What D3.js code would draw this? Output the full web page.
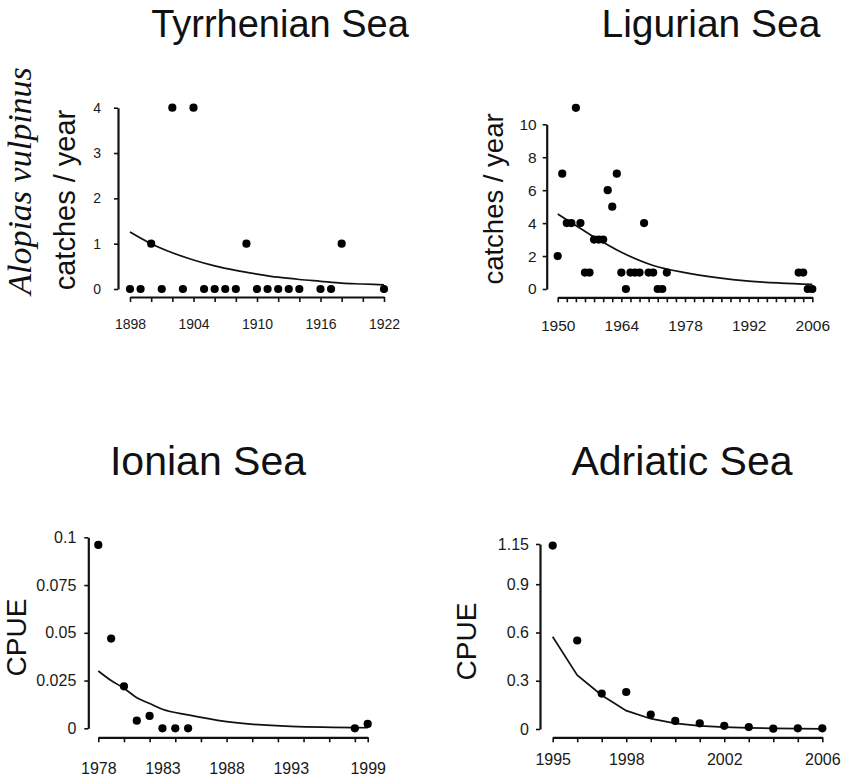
<!DOCTYPE html>
<html>
<head>
<meta charset="utf-8">
<script src="https://cdn.jsdelivr.net/npm/d3@7"></script>
<style>
  body { margin: 0; background: #fff; }
  svg { display: block; }
</style>
</head>
<body>
<div id="chart"></div>
<script>
// Tyrrhenian Sea: catches per year
const tyrYears = [1898, 1899, 1900, 1901, 1902, 1903, 1904, 1905, 1906, 1907, 1908, 1909, 1910, 1911, 1912, 1913, 1914, 1916, 1917, 1918, 1922];
const tyrCatches = [0, 0, 1, 0, 4, 0, 4, 0, 0, 0, 0, 1, 0, 0, 0, 0, 0, 0, 0, 1, 0];
const tyrFitYears = [1898, 1900, 1902, 1904, 1906, 1908, 1910, 1912, 1914, 1916, 1918, 1920, 1922];
const tyrFit = [1.26, 1.0, 0.8, 0.64, 0.51, 0.41, 0.33, 0.26, 0.21, 0.17, 0.13, 0.11, 0.09];
const tyrXLabels = [1898, 1904, 1910, 1916, 1922];
const tyrYTicks = [0, 1, 2, 3, 4];

// Ligurian Sea: catches per year
const ligYears = [1950, 1951, 1952, 1953, 1954, 1955, 1956, 1957, 1958, 1959, 1960, 1961, 1962, 1963, 1964, 1965, 1966, 1967, 1968, 1969, 1970, 1971, 1972, 1973, 1974, 2003, 2004, 2005, 2006];
const ligCatches = [2, 7, 4, 4, 11, 4, 1, 1, 3, 3, 3, 6, 5, 7, 1, 0, 1, 1, 1, 4, 1, 1, 0, 0, 1, 1, 1, 0, 0];
const ligFitYears = [1950, 1957, 1964, 1971, 1978, 1985, 1992, 1999, 2006];
const ligFit = [4.55, 3.33, 2.23, 1.43, 0.99, 0.69, 0.48, 0.36, 0.28];
const ligXLabels = [1950, 1964, 1978, 1992, 2006];
const ligYTicks = [0, 2, 4, 6, 8, 10];

// Ionian Sea: CPUE
const ionYears = [1978, 1979, 1980, 1981, 1982, 1983, 1984, 1985, 1998, 1999];
const ionCpue = [0.096, 0.047, 0.022, 0.004, 0.0065, 0, 0, 0, 0, 0.0023];
const ionFitYears = [1978, 1979, 1980, 1981, 1982, 1983, 1985, 1988, 1993, 1999];
const ionFit = [0.030, 0.025, 0.021, 0.016, 0.013, 0.010, 0.007, 0.0035, 0.001, 0.0003];
const ionXLabels = [1978, 1983, 1988, 1993, 1999];
const ionYTicks = [0, 0.025, 0.05, 0.075, 0.1];

// Adriatic Sea: CPUE
const adrYears = [1995, 1996, 1997, 1998, 1999, 2000, 2001, 2002, 2003, 2004, 2005, 2006];
const adrCpue = [1.14, 0.55, 0.22, 0.23, 0.09, 0.05, 0.035, 0.02, 0.012, 0.002, 0.004, 0.004];
const adrFit = [0.573, 0.335, 0.21, 0.114, 0.064, 0.035, 0.02, 0.012, 0.007, 0.004, 0.002, 0.001];
const adrXLabels = [1995, 1998, 2002, 2006];
const adrYTicks = [0, 0.3, 0.6, 0.9, 1.15];

const W = 842, H = 781;
const sans = "'Liberation Sans', Arial, Helvetica, sans-serif";
const ink = "#111";

const svg = d3.select("#chart").append("svg")
    .attr("width", W)
    .attr("height", H)
    .style("font-family", sans);

const panels = [
    {
        title: "Tyrrhenian Sea", titleX: 280, titleY: 37, titleSize: 38,
        years: tyrYears, values: tyrCatches, fitYears: tyrFitYears, fit: tyrFit, smooth: true,
        xDomain: [1898, 1922], xRange: [130, 384], xTickStep: 2, xLabels: tyrXLabels,
        yDomain: [0, 4], yRange: [289, 107.7], yTicks: tyrYTicks,
        axisX: 118, axisY: 297, fontSize: 14, xLabTop: 22, yPad: 13,
        ylab: "catches / year", ylabX: 75, ylabY: 200, ylabSize: 29
    },
    {
        title: "Ligurian Sea", titleX: 711, titleY: 37, titleSize: 39,
        years: ligYears, values: ligCatches, fitYears: ligFitYears, fit: ligFit, smooth: true,
        xDomain: [1950, 2006], xRange: [557.7, 812.3], xTickStep: 2, xLabels: ligXLabels,
        yDomain: [0, 10], yRange: [289, 124.3], yTicks: ligYTicks,
        axisX: 546.7, axisY: 297.3, fontSize: 15.5, xLabTop: 23, yPad: 6,
        ylab: "catches / year", ylabX: 503, ylabY: 199, ylabSize: 27.5
    },
    {
        title: "Ionian Sea", titleX: 208, titleY: 475, titleSize: 41,
        years: ionYears, values: ionCpue, fitYears: ionFitYears, fit: ionFit, smooth: true,
        xDomain: [1978, 1999], xRange: [98.3, 367.7], xTickStep: 2, xLabels: ionXLabels,
        yDomain: [0, 0.1], yRange: [728.3, 537.3], yTicks: ionYTicks,
        axisX: 88.3, axisY: 737.3, fontSize: 16, xLabTop: 25, yPad: 8,
        ylab: "CPUE", ylabX: 26, ylabY: 637.5, ylabSize: 28
    },
    {
        title: "Adriatic Sea", titleX: 682, titleY: 475, titleSize: 41,
        years: adrYears, values: adrCpue, fitYears: adrYears, fit: adrFit, smooth: false,
        xDomain: [1995, 2006], xRange: [552.7, 822.3], xTickStep: 1, xLabels: adrXLabels,
        yDomain: [0, 1.15], yRange: [729, 544], yTicks: adrYTicks,
        axisX: 540, axisY: 737.3, fontSize: 16, xLabTop: 16, yPad: 7,
        ylab: "CPUE", ylabX: 476, ylabY: 641.5, ylabSize: 28
    }
];

function styleAxis(a, p) {
    a.select(".domain").attr("stroke", ink).attr("stroke-width", 2.2);
    a.selectAll(".tick line").attr("stroke", ink).attr("stroke-width", 1.6);
    a.selectAll(".tick text")
        .attr("fill", "#1a1a1a")
        .attr("font-size", p.fontSize)
        .attr("font-family", sans);
}

panels.forEach(p => {
    const g = svg.append("g");

    const x = d3.scaleLinear().domain(p.xDomain).range(p.xRange);
    const y = d3.scaleLinear().domain(p.yDomain).range(p.yRange);

    // tick marks every xTickStep years, always ending on the last year
    const tickYears = d3.range(p.xDomain[0], p.xDomain[1] + 1, p.xTickStep);
    if (tickYears[tickYears.length - 1] !== p.xDomain[1]) tickYears.push(p.xDomain[1]);

    g.append("text")
        .attr("x", p.titleX)
        .attr("y", p.titleY)
        .attr("text-anchor", "middle")
        .attr("font-size", p.titleSize)
        .attr("fill", ink)
        .text(p.title);

    // x axis: line + tick marks
    const xAxis = g.append("g")
        .attr("transform", `translate(0,${p.axisY})`)
        .call(d3.axisBottom(x)
            .tickValues(tickYears)
            .tickSize(5)
            .tickSizeOuter(0)
            .tickFormat(""));
    styleAxis(xAxis, p);

    // x labels, placed independently of the tick marks
    const xLab = g.append("g")
        .attr("transform", `translate(0,${p.axisY})`)
        .call(d3.axisBottom(x)
            .tickValues(p.xLabels)
            .tickSize(0)
            .tickPadding(p.xLabTop)
            .tickFormat(d3.format("d")));
    xLab.select(".domain").remove();
    styleAxis(xLab, p);

    const yAxis = g.append("g")
        .attr("transform", `translate(${p.axisX},0)`)
        .call(d3.axisLeft(y)
            .tickValues(p.yTicks)
            .tickSize(4)
            .tickSizeOuter(0)
            .tickPadding(p.yPad)
            .tickFormat(d => d));
    styleAxis(yAxis, p);

    g.append("text")
        .attr("transform", `translate(${p.ylabX},${p.ylabY}) rotate(-90)`)
        .attr("text-anchor", "middle")
        .attr("font-size", p.ylabSize)
        .attr("fill", ink)
        .text(p.ylab);

    const line = d3.line()
        .x((d, i) => x(p.fitYears[i]))
        .y(d => y(d))
        .curve(p.smooth ? d3.curveMonotoneX : d3.curveLinear);

    g.append("path")
        .datum(p.fit)
        .attr("fill", "none")
        .attr("stroke", ink)
        .attr("stroke-width", 1.7)
        .attr("d", line);

    g.selectAll("circle")
        .data(p.values)
        .enter()
        .append("circle")
        .attr("cx", (d, i) => x(p.years[i]))
        .attr("cy", d => y(d))
        .attr("r", 4.1)
        .attr("fill", "#000");
});

// species name on the left, serif italic
svg.append("text")
    .attr("transform", "translate(31,181) rotate(-90)")
    .attr("text-anchor", "middle")
    .attr("font-family", "'Liberation Serif', 'Times New Roman', serif")
    .attr("font-style", "italic")
    .attr("font-size", 34)
    .attr("fill", ink)
    .text("Alopias vulpinus");
</script>
</body>
</html>
